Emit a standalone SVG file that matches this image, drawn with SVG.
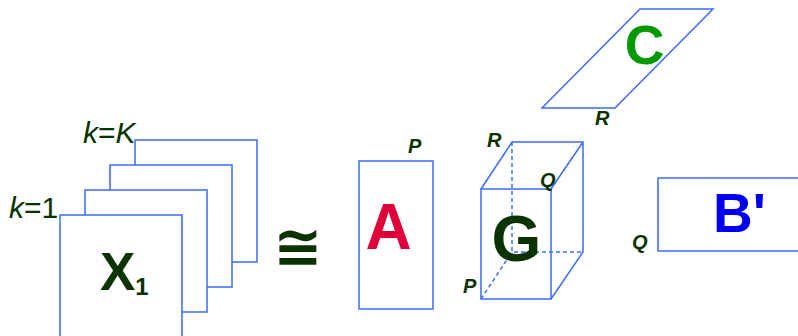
<svg xmlns="http://www.w3.org/2000/svg" width="798" height="336" viewBox="0 0 798 336">
<style>
.box{fill:#fff;stroke:#3d6bff;stroke-width:1.5}
.ln{fill:none;stroke:#3d6bff;stroke-width:1.5}
.dash{fill:none;stroke:#3d6bff;stroke-width:1.5;stroke-dasharray:4 3}
.lbl{font-family:"Liberation Sans",Arial,sans-serif;font-weight:bold;font-style:italic;font-size:20px;fill:#0a3300}
.k{font-family:"Liberation Sans",Arial,sans-serif;font-size:30px;fill:#0a3300}
.big{font-family:"Liberation Sans",Arial,sans-serif;font-weight:bold}
</style>
<rect width="798" height="336" fill="#fff"/>
<g id="X">
<rect class="box" x="135" y="140" width="122" height="122"/>
<rect class="box" x="110" y="165" width="122" height="122"/>
<rect class="box" x="85" y="190" width="122" height="122"/>
<rect class="box" x="60" y="215" width="122" height="130"/>
<text class="big" x="100" y="290" font-size="53" fill="#0a3300">X<tspan font-size="24" dy="5">1</tspan></text>
<text class="k" x="83" y="143"><tspan font-style="italic">k</tspan>=<tspan font-style="italic">K</tspan></text>
<text class="k" x="9" y="218"><tspan font-style="italic">k</tspan>=1</text>
</g>
<g id="approx">
<text x="298" y="267" font-family="DejaVu Sans,sans-serif" font-weight="bold" font-size="59" fill="#0a3300" text-anchor="middle">≅</text>
</g>
<g id="A">
<rect class="box" x="359" y="161" width="74" height="148"/>
<text class="big" x="388.5" y="249" font-size="64" fill="#dd0039" text-anchor="middle">A</text>
<text class="lbl" x="408" y="153">P</text>
</g>
<g id="G">
<path class="dash" d="M512,142 V252 H583 M481,299 L512,252"/>
<path class="ln" d="M481,189 L512,142 H583 V252 L551,299 M551,189 L583,142"/>
<rect class="ln" x="481" y="189" width="70" height="110"/>
<text class="big" x="516.5" y="261" font-size="64" fill="#0a3300" text-anchor="middle">G</text>
<text class="lbl" x="487" y="147">R</text>
<text class="lbl" x="540" y="187">Q</text>
<text class="lbl" x="463" y="293">P</text>
</g>
<g id="C">
<polygon class="box" points="640,9 713,9 615,108 542,108"/>
<text class="big" x="644.5" y="64" font-size="55" fill="#009900" text-anchor="middle">C</text>
<text class="lbl" x="595" y="125">R</text>
</g>
<g id="B">
<rect class="box" x="658" y="178" width="150" height="73"/>
<text class="big" x="713" y="232" font-size="55" fill="#0000ee">B'</text>
<text class="lbl" x="632" y="249">Q</text>
</g>
<g id="connectors"></g>
</svg>
